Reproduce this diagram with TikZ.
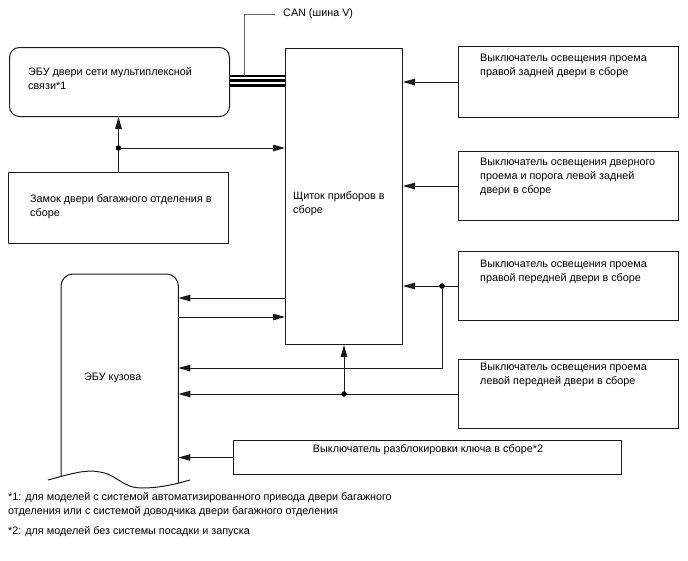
\documentclass[tikz,border=0pt]{standalone}
\usepackage{fontspec}
\setmainfont{Liberation Sans}
\usetikzlibrary{arrows.meta}

\tikzset{
  blk/.style={draw=black!90, line width=1pt, inner sep=0pt, anchor=north west},
  txt/.style={inner sep=0pt, align=left, font=\fontsize{10.8}{14}\selectfont},
  wire/.style={draw=black!90, line width=1pt},
  arr/.style={wire, -{Triangle[length=12pt,width=6.5pt]}},
  bus/.style={line width=2.3pt},
  dot/.style={circle, fill=black, inner sep=0pt, minimum size=5.5pt},
}

\begin{document}
\begin{tikzpicture}[x=1pt, y=-1pt, line cap=butt, line join=miter]
  %% ════ 方框 ════
  \node[blk, rounded corners=10pt, minimum width=220pt, minimum height=69pt] (ebud) at (9,47) {};
  \node[blk, minimum width=220pt, minimum height=71pt] (zamok) at (8,172) {};
  \node[blk, minimum width=117pt, minimum height=296pt] (shchitok) at (285,48) {};
  \node[blk, minimum width=220pt, minimum height=71pt] (rr) at (458,46) {};
  \node[blk, minimum width=220pt, minimum height=69pt] (lr) at (458,151) {};
  \node[blk, minimum width=220pt, minimum height=69pt] (rf) at (458,251) {};
  \node[blk, minimum width=220pt, minimum height=69pt] (lf) at (458,359) {};
  \node[blk, minimum width=388pt, minimum height=34pt] (key) at (233,440) {};
  %% ЭБУ кузова：上圆角、下沿撕口，框本身不画，外形单独描
  \node[inner sep=0pt, anchor=north west, minimum width=117pt, minimum height=206pt] (ebuk) at (61,274) {};
  \draw[wire, rounded corners=12pt] (ebuk.south west) ++(0,-4) |- (ebuk.north) -| ([yshift=-3pt]ebuk.south east);
  \draw[wire] (48,480) .. controls (70,474) and (86,469) .. (100,472)
              .. controls (118,475) and (122,488) .. (142,488)
              .. controls (160,488) and (176,484) .. (190,480);

  %% ════ 标签 ════
  \node[txt, anchor=west] (ebud-t) at (28,79) {ЭБУ двери сети мультиплексной\\связи*1};
  \node[txt, anchor=west] (zamok-t) at (30,207) {Замок двери багажного отделения в\\сборе};
  \node[txt, anchor=west] (shchitok-t) at (293,204) {Щиток приборов в\\сборе};
  \node[txt, anchor=west] (ebuk-t) at (84,378) {ЭБУ кузова};
  \node[txt, anchor=west] (rr-t) at (480,65.5) {Выключатель освещения проема\\правой задней двери в сборе};
  \node[txt, anchor=west] (lr-t) at (480,177) {Выключатель освещения дверного\\проема и порога левой задней\\двери в сборе};
  \node[txt, anchor=west] (rf-t) at (480,272) {Выключатель освещения проема\\правой передней двери в сборе};
  \node[txt, anchor=west] (lf-t) at (480,375) {Выключатель освещения проема\\левой передней двери в сборе};
  \node[txt] (key-t) at (428,450) {Выключатель разблокировки ключа в сборе*2};
  \node[txt, anchor=west] (can) at (283,14) {CAN (шина V)};
  \node[txt, anchor=west] (fn1) at (8,505) {*1: для моделей с системой автоматизированного привода двери багажного\\отделения или с системой доводчика двери багажного отделения};
  \node[txt, anchor=west] (fn2) at (8,532) {*2: для моделей без системы посадки и запуска};

  %% ════ CAN 总线 ════
  \foreach \yy in {76,80.5,85.5}
    \draw[bus] (ebud.east |- 0,\yy) -- (shchitok.west |- 0,\yy);
  \coordinate (can-j) at (244,76);
  \draw[line width=1pt, black!60] (can-j) |- ([xshift=-8pt]can.west);

  %% ════ 连线 ════
  \coordinate (j1) at (zamok.north |- 0,148);
  \draw[arr] (zamok.north) -- (zamok.north |- ebud.south);
  \draw[arr] (j1) -- (j1 -| shchitok.west);
  \node[dot] (j1-d) at (j1) {};

  \draw[arr] (rr.west) -- (rr.west -| shchitok.east);
  \draw[arr] (lr.west) -- (lr.west -| shchitok.east);

  \draw[arr] (shchitok.west |- 0,298) -- (ebuk.east |- 0,298);
  \draw[arr] (ebuk.east |- 0,317) -- (shchitok.west |- 0,317);

  \coordinate (j2) at (442,0 |- rf.west);
  \draw[arr] (rf.west) -- (rf.west -| shchitok.east);
  \draw[arr] (j2) |- (ebuk.east |- 0,368);
  \node[dot] (j2-d) at (j2) {};

  \coordinate (j3) at (shchitok.south |- lf.west);
  \draw[arr] (lf.west) -- (lf.west -| ebuk.east);
  \draw[arr] (j3) -- (shchitok.south);
  \node[dot] (j3-d) at (j3) {};

  \draw[arr] (key.west) -- (key.west -| ebuk.east);

  % 钉死画布
  \pgfresetboundingbox
  \path[use as bounding box] (0,0) rectangle (688,560);
\end{tikzpicture}
\end{document}
